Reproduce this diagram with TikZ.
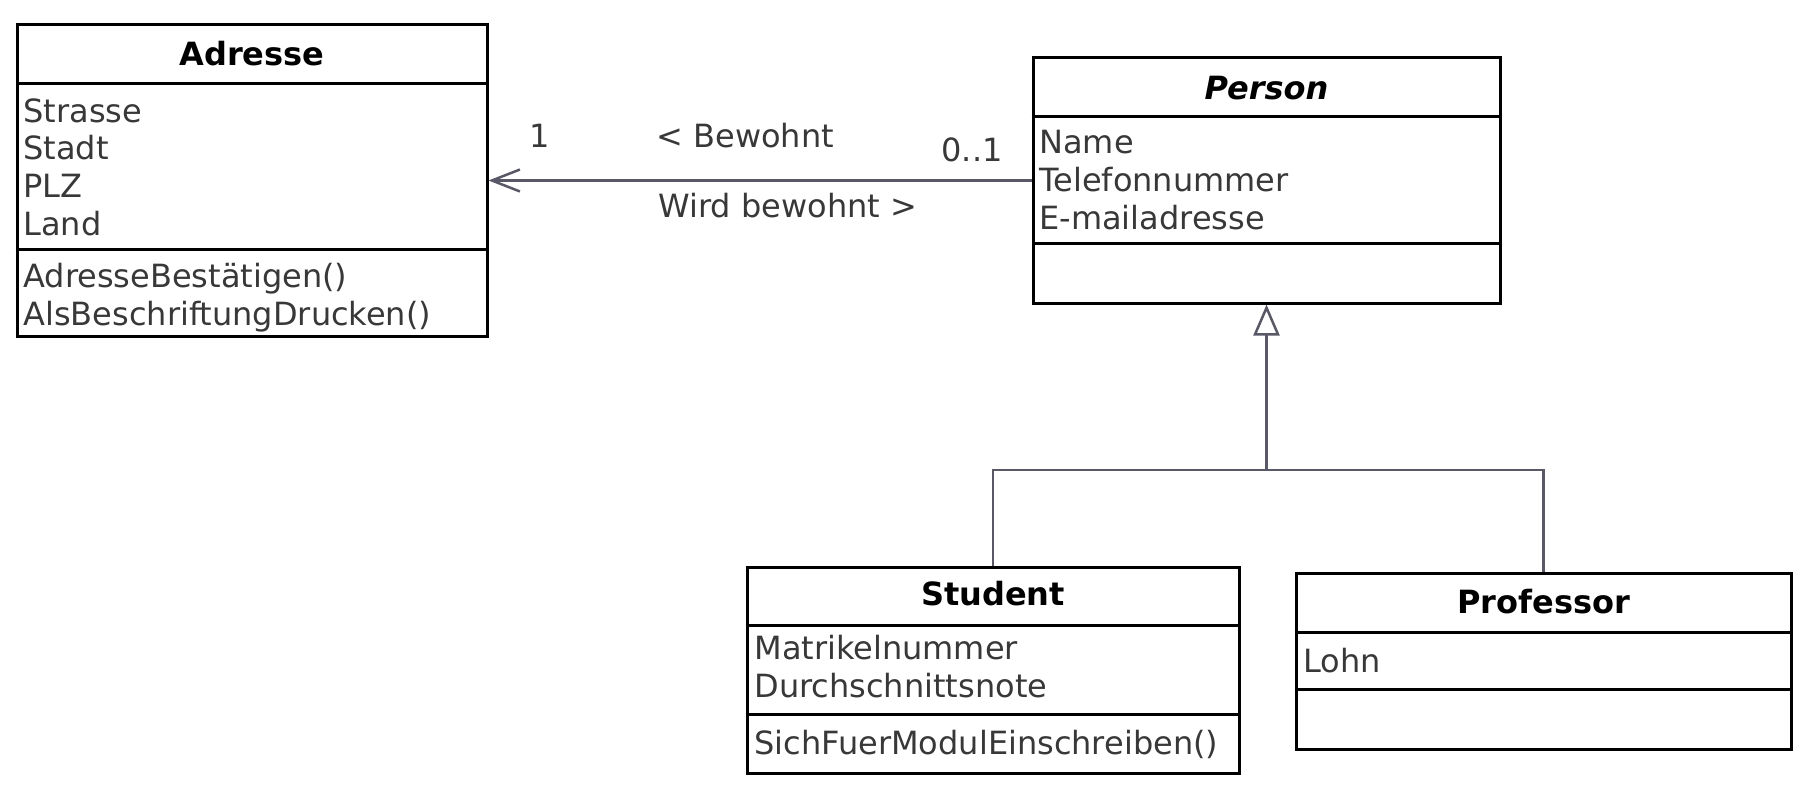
\documentclass[tikz,border=0pt]{standalone}
\usepackage{fontspec}
\setmainfont{DejaVu Sans}
\usetikzlibrary{fit,arrows.meta}
\definecolor{txtgray}{HTML}{383838}
\definecolor{conngray}{HTML}{585866}
\begin{document}
\begin{tikzpicture}[x=0.5pt,y=-0.5pt,
  classbox/.style={draw=black, line width=1.5pt, inner sep=0pt},
  sepline/.style={draw=black, line width=1.5pt},
  ctitle/.style={anchor=base, inner sep=0pt, font=\fontsize{16}{18.85}\selectfont\bfseries, text=black},
  cattr/.style={anchor=base west, inner sep=0pt, font=\fontsize{16}{18.85}\selectfont, text=txtgray},
  lbl/.style={inner sep=0pt, font=\fontsize{16}{18.85}\selectfont, text=txtgray},
  connline/.style={draw=conngray, line width=1.25pt},
]
\useasboundingbox (0,0) rectangle (1813,797);

% ---------- Adresse ----------
\node[classbox, fit={(17,25) (487,336)}] (adresse) {};
\draw[sepline] (adresse.west |- 0,84) -- (adresse.east |- 0,84);
\draw[sepline] (adresse.west |- 0,249) -- (adresse.east |- 0,249);
\node[ctitle] (adresseT) at (252,66) {Adresse};
\node[cattr] (a1) at (23,122) {Strasse};
\node[cattr] (a2) at (23,159.7) {Stadt};
\node[cattr] (a3) at (23,197.4) {PLZ};
\node[cattr] (a4) at (23,235) {Land};
\node[cattr] (am1) at (23,287) {AdresseBestätigen()};
\node[cattr] (am2) at (23,325) {AlsBeschriftungDrucken()};

% ---------- Person ----------
\node[classbox, fit={(1033,58) (1500,303)}] (person) {};
\draw[sepline] (person.west |- 0,117) -- (person.east |- 0,117);
\draw[sepline] (person.west |- 0,243) -- (person.east |- 0,243);
\node[ctitle, font=\fontsize{16}{18.85}\selectfont\bfseries\itshape] (personT) at (1266.5,99) {Person};
\node[cattr] (p1) at (1039,153.5) {Name};
\node[cattr] (p2) at (1039,191.2) {Telefonnummer};
\node[cattr] (p3) at (1039,229) {E-mailadresse};

% ---------- Student ----------
\node[classbox, fit={(747,567) (1239,773)}] (student) {};
\draw[sepline] (student.west |- 0,625) -- (student.east |- 0,625);
\draw[sepline] (student.west |- 0,714) -- (student.east |- 0,714);
\node[ctitle] (studentT) at (993,605) {Student};
\node[cattr] (s1) at (754,659) {Matrikelnummer};
\node[cattr] (s2) at (754,697) {Durchschnittsnote};
\node[cattr] (sm1) at (754,754) {SichFuerModulEinschreiben()};

% ---------- Professor ----------
\node[classbox, fit={(1296,573) (1791,749)}] (professor) {};
\draw[sepline] (professor.west |- 0,632) -- (professor.east |- 0,632);
\draw[sepline] (professor.west |- 0,689) -- (professor.east |- 0,689);
\node[ctitle] (professorT) at (1543.5,613) {Professor};
\node[cattr] (pr1) at (1303,672) {Lohn};

% ---------- Association ----------
\draw[connline, -{Straight Barb[length=14pt, width=11pt, line width=1.25pt]}] (person.west) -- (adresse.east);
\node[lbl, anchor=base west] (mult1) at (529,148) {1};
\node[lbl, anchor=base west] (bew1) at (656,148) {< Bewohnt};
\node[lbl, anchor=base east] (mult2) at (1003,162) {0..1};
\node[lbl, anchor=base west] (bew2) at (658,217) {Wird bewohnt >};

% ---------- Generalization ----------
\coordinate (junction) at (1266.5,470);
\draw[connline] (student.north) |- (junction) -| (professor.north);
\draw[connline, -{Triangle[open, fill=white, length=15.5pt, width=13pt, line width=1.25pt]}] (junction) -- (person.south);
\end{tikzpicture}
\end{document}
